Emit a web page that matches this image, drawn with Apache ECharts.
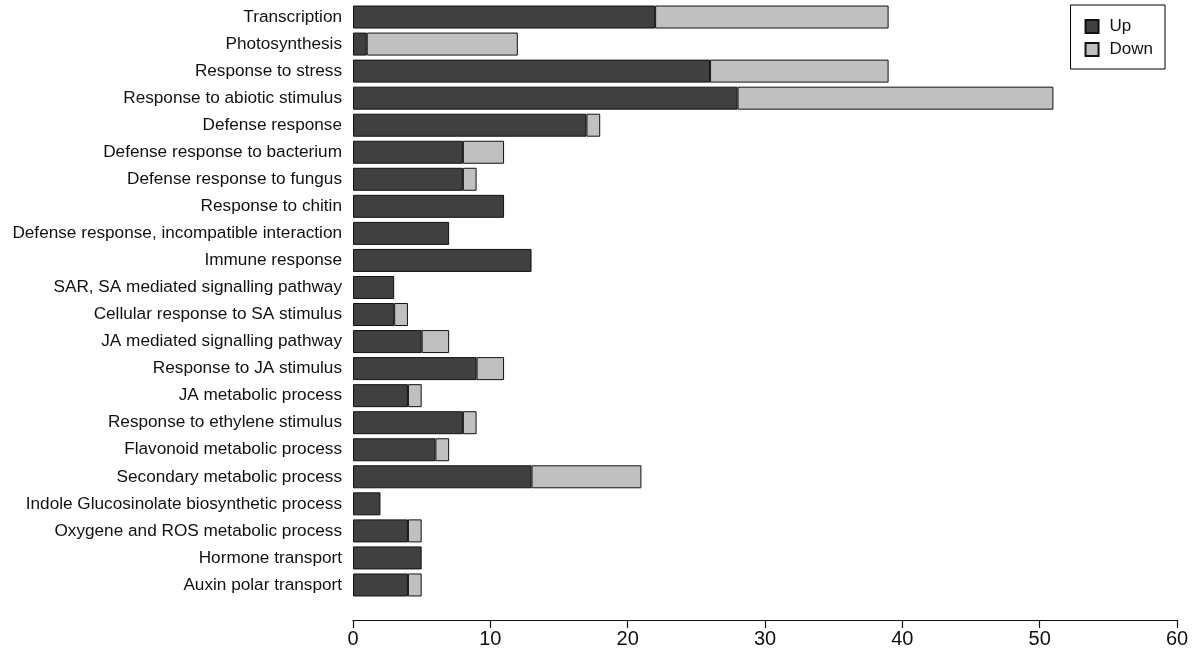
<!DOCTYPE html>
<html><head><meta charset="utf-8">
<script src="https://cdn.jsdelivr.net/npm/echarts@6/dist/echarts.min.js"></script>
<style>html,body{margin:0;padding:0;background:#fff}#c{width:1200px;height:655px}</style>
</head><body><div id="c"></div>
<script>
const categories = ["Transcription","Photosynthesis","Response to stress","Response to abiotic stimulus","Defense response","Defense response to bacterium","Defense response to fungus","Response to chitin","Defense response, incompatible interaction","Immune response","SAR, SA mediated signalling pathway","Cellular response to SA stimulus","JA mediated signalling pathway","Response to JA stimulus","JA metabolic process","Response to ethylene stimulus","Flavonoid metabolic process","Secondary metabolic process","Indole Glucosinolate biosynthetic process","Oxygene and ROS metabolic process","Hormone transport","Auxin polar transport"];
const upValues =   [22,1,26,28,17,8,8,11,7,13,3,3,5,9,4,8,6,13,2,4,5,4];
const downValues = [17,11,13,23,1,3,1,0,0,0,0,1,2,2,1,1,1,8,0,1,0,1];
const xTicks = [0,10,20,30,40,50,60];

const chart = echarts.init(document.getElementById('c'), null, {renderer:'canvas'});
chart.setOption({
  animation:false,
  backgroundColor:'#fff',
  textStyle:{fontFamily:'Liberation Sans, Arial, sans-serif'},
  grid:{left:353,right:23,top:3.5,bottom:56.5,containLabel:false},
  legend:{
    orient:'vertical', right:35, top:5,
    data:['Up','Down'],
    icon:'rect', itemWidth:13, itemHeight:13, itemGap:6,
    padding:[13,12,11,14],
    borderColor:'#000', borderWidth:1,
    textStyle:{fontSize:17,color:'#111',padding:[0,0,0,6]}
  },
  xAxis:{
    type:'value', min:xTicks[0], max:xTicks[xTicks.length-1], interval:10,
    offset:21.5,
    axisLine:{show:true,lineStyle:{color:'#111',width:1.2}},
    axisTick:{show:true,length:8,lineStyle:{color:'#111',width:1.2}},
    axisLabel:{fontSize:20,color:'#111',margin:9},
    splitLine:{show:false}
  },
  yAxis:{
    type:'category', data:categories, inverse:true,
    axisLine:{show:false}, axisTick:{show:false},
    axisLabel:{fontSize:17.2,color:'#111',margin:11}
  },
  series:[
    {name:'Up',type:'bar',stack:'a',data:upValues.map(v=>v===0?'-':v),barWidth:23,
     itemStyle:{color:'#404040',borderColor:'#111',borderWidth:1}},
    {name:'Down',type:'bar',stack:'a',data:downValues.map(v=>v===0?'-':v),barWidth:23,
     itemStyle:{color:'#c0c0c0',borderColor:'#111',borderWidth:1}}
  ]
});
</script></body></html>
